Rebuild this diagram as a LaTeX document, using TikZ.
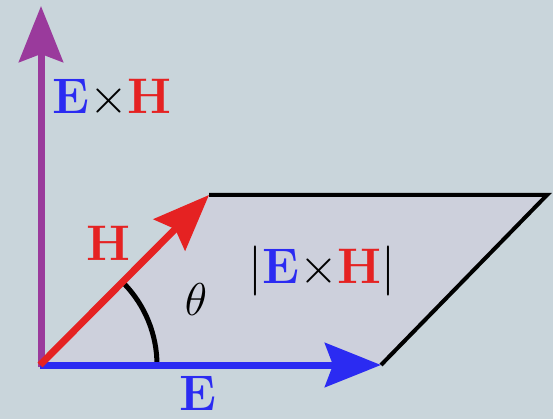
\RequirePackage{fix-cm}
\documentclass[tikz,border=0pt]{standalone}
\usetikzlibrary{arrows.meta}
\definecolor{bgc}{HTML}{C9D5DB}
\definecolor{parc}{HTML}{CDD0DC}
\definecolor{purp}{HTML}{9A3A9C}
\definecolor{bluc}{HTML}{2B2BF2}
\definecolor{redc}{HTML}{E52222}
\tikzset{
  vec/.style={line width=7pt,-{Stealth[length=56pt,width=44pt,inset=8pt]}},
  lbl/.style={font=\fontsize{50}{54}\selectfont\bfseries, inner sep=0pt},
}
\newcommand{\vE}{\textcolor{bluc}{E}}
\newcommand{\vH}{\textcolor{redc}{H}}
\newcommand{\crs}{{\mdseries$\times$}}
\begin{document}
\begin{tikzpicture}[x=1pt,y=-1pt]
\fill[bgc] (0,0) rectangle (553,419);
\useasboundingbox (0,0) rectangle (553,419);
\coordinate (O) at (40,365);
\coordinate (Et) at (381,365);
\coordinate (Ht) at (209,195);
\coordinate (TR) at (547,195);
\coordinate (Zt) at (41,6);
\fill[parc] (O) -- (Et) -- (TR) -- (Ht) -- cycle;
\draw[line width=4pt, line join=miter] (Ht) -- (TR) -- (Et);
\draw[purp, vec] (41,367) -- (Zt);
\draw[line width=5pt] (157,365) arc[start angle=0, end angle=-44, radius=117];
\draw[bluc, vec] (O) -- (Et);
\draw[redc, vec] (O) -- (Ht);
\node[lbl] (exh) at (112,98) {\vE\crs\vH};
\node[lbl] (hl) at (108,243) {\vH};
\node[lbl] (el) at (198,393) {\vE};
\node[lbl] (area) at (322,271) {{\mdseries$|$}\vE\crs\vH{\mdseries$|$}};
\node[font=\fontsize{46}{50}\selectfont, inner sep=0pt] (th) at (196,300) {$\theta$};
\end{tikzpicture}
\end{document}
